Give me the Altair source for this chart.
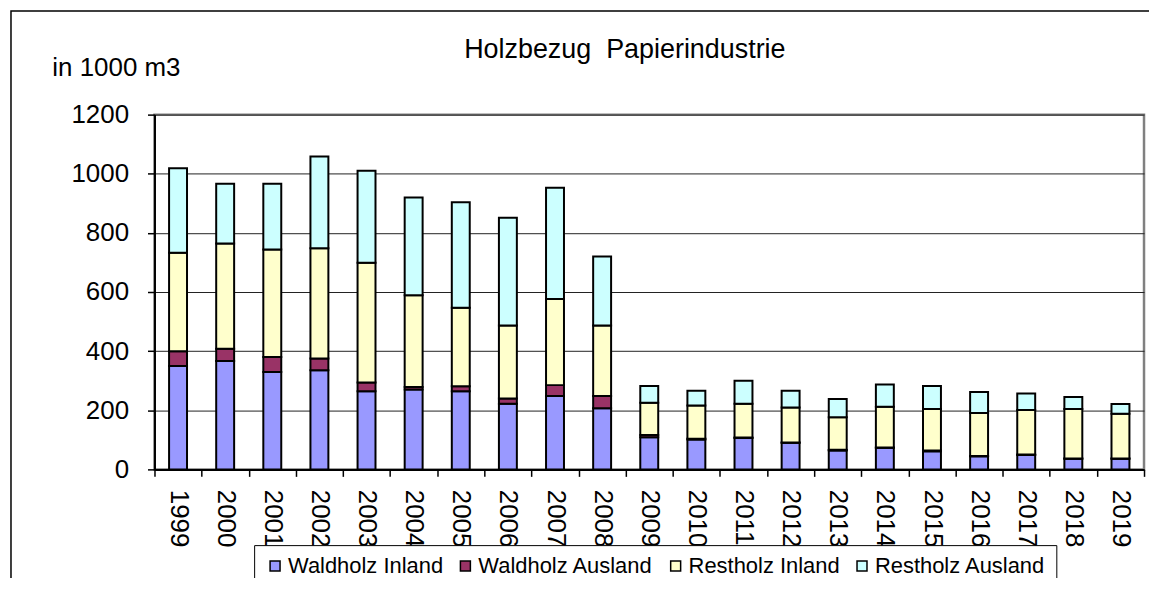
import altair as alt
import pandas as pd

years = [str(y) for y in range(1999, 2020)]
series = ["Waldholz Inland", "Waldholz Ausland", "Restholz Inland", "Restholz Ausland"]
colors = ["#9999FF", "#993366", "#FFFFCC", "#CCFFFF"]

waldholz_inland = [350, 367, 329, 335, 264, 270, 264, 222, 248, 207, 109, 101, 106, 90, 64, 73, 61, 44, 49, 36, 36]
waldholz_ausland = [50, 41, 51, 40, 30, 9, 17, 18, 37, 41, 7, 3, 2, 1, 2, 1, 3, 1, 1, 1, 1]
restholz_inland = [333, 356, 364, 373, 405, 310, 266, 247, 291, 239, 109, 112, 114, 118, 110, 138, 140, 146, 151, 167, 151]
restholz_ausland = [286, 202, 222, 310, 311, 331, 357, 364, 377, 233, 57, 50, 78, 57, 62, 75, 78, 71, 56, 41, 33]

title_text = "Holzbezug\u00a0 Papierindustrie"
unit_text = "in 1000 m3"
y_ticks = [0, 200, 400, 600, 800, 1000, 1200]

FONT = "Liberation Sans"

rows = []
for i, y in enumerate(years):
    for k, (name, vals) in enumerate(zip(series, [waldholz_inland, waldholz_ausland, restholz_inland, restholz_ausland])):
        rows.append({"Jahr": y, "Serie": name, "Wert": vals[i], "ord": k})
df = pd.DataFrame(rows)

bars = alt.Chart(df).mark_bar(size=18, stroke="black", strokeWidth=2).encode(
    x=alt.X("Jahr:N", sort=years,
            scale=alt.Scale(paddingInner=0, paddingOuter=0),
            axis=alt.Axis(title=None, labelAngle=90, labelFontSize=26, labelFont=FONT,
                          labelColor="black", tickBand="extent", tickSize=7, tickColor="black",
                          tickWidth=1.5, domainColor="black", domainWidth=2, labelPadding=13,
                          grid=False)),
    y=alt.Y("Wert:Q", stack="zero",
            scale=alt.Scale(domain=[0, 1200], nice=False),
            axis=alt.Axis(values=y_ticks, format="d", title=unit_text, titleAngle=0, titleAlign="left",
                          titleBaseline="alphabetic", titleX=-103, titleY=-39,
                          titleFontSize=26, titleFont=FONT, titleFontWeight="normal",
                          titleColor="black",
                          labelFontSize=26, labelFont=FONT, labelColor="black",
                          labelPadding=19, tickSize=7, tickColor="black", tickWidth=1.5,
                          domainColor="black", domainWidth=2,
                          grid=True, gridColor="#222222", gridWidth=1)),
    color=alt.Color("Serie:N", scale=alt.Scale(domain=series, range=colors),
                    legend=alt.Legend(title=None, orient="none", legendX=100, legendY=432,
                                      direction="horizontal", strokeColor="black",
                                      fillColor="white", padding=10,
                                      labelFontSize=22, labelFont=FONT, labelColor="black",
                                      labelLimit=400,
                                      symbolType="square", symbolSize=100,
                                      symbolStrokeColor="black", symbolStrokeWidth=1.5,
                                      columnPadding=11, labelOffset=2)),
    order=alt.Order("ord:Q", sort="ascending"),
)

single = pd.DataFrame({"t": [title_text]})

title = alt.Chart(single).mark_text(fontSize=27, font=FONT, color="black",
                                    align="center", baseline="alphabetic").encode(
    text="t:N", x=alt.value(472), y=alt.value(-57))

frame = alt.Chart(single).mark_rect(filled=False, stroke="black", strokeWidth=1.5,
                                    clip=False).encode(
    x=alt.value(-144), x2=alt.value(2000), y=alt.value(-104), y2=alt.value(2000))

chart = alt.layer(frame, bars, title).properties(
    width=993, height=356,
    autosize=alt.AutoSizeParams(type="none"),
    padding={"left": 147, "top": 106, "right": 5, "bottom": 108},
    background="white",
).configure_view(stroke="#808080", strokeWidth=2.5)

chart.save("out.html", embed_options={"renderer": "svg", "actions": False})
